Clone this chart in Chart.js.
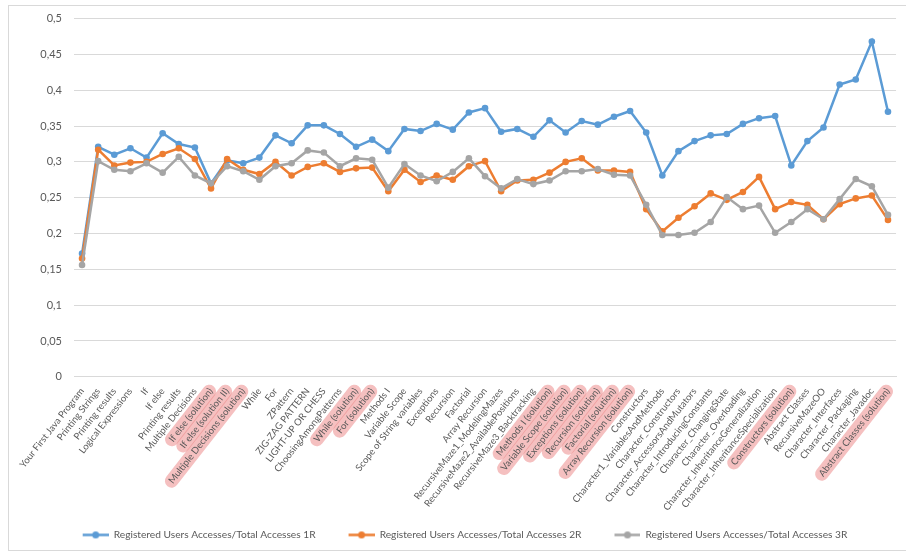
<!DOCTYPE html>
<html>
<head>
<meta charset="utf-8">
<script src="https://cdn.jsdelivr.net/npm/chart.js@4.4.1/dist/chart.umd.min.js"></script>
<style>
  html, body { margin: 0; padding: 0; background: #fff; }
  #wrap { position: relative; width: 906px; height: 552px; overflow: hidden; }
  #frame { position: absolute; left: 8px; top: 5px; width: 905px; height: 546px; border: 1px solid #d9d9d9; box-sizing: border-box; }
  #chart { position: absolute; left: 0; top: 0; }
</style>
</head>
<body>
<div id="wrap">
  <div id="frame"></div>
  <canvas id="chart" width="906" height="552"></canvas>
</div>
<script>
// ── Data ──
const lessons = [
  'Your First Java Program', 'Printing Strings', 'Printing results', 'Logical Expressions', 'If', 'If else',
  'Printing results', 'Multiple Decisions', 'If else (solution)', 'If else (solution II)', 'Multiple Decisions (solution)',
  'While', 'For', 'ZPattern', 'ZIG-ZAG PATTERN', 'LIGHT-UP OR CHESS', 'ChoosingAmongPatterns', 'While (solution)',
  'For (solution)', 'Methods I', 'Variable Scope', 'Scope of String variables', 'Exceptions', 'Recursion', 'Factorial',
  'Array Recursion', 'RecursiveMaze1_ModelingMazes', 'RecursiveMaze2_AvailablePositions', 'RecursiveMaze3_Backtracking',
  'Methods I (solution)', 'Variable Scope (solution)', 'Exceptions (solution)', 'Recursion (solution)',
  'Factorial (solution)', 'Array Recursion (solution)', 'Constructors', 'Character1_VariablesAndMethods',
  'Character_Constructors', 'Character_AccessorsAndMutators', 'Character_IntroducingConstants',
  'Character_ChangingState', 'Character_Overloading', 'Character_InheritanceGeneralization',
  'Character_InheritanceSpecialization', 'Constructors (solution)', 'Abstract Classes', 'RecursiveMazeOO',
  'Character_Interfaces', 'Character_Packaging', 'Character_Javadoc', 'Abstract Classes (solution)'
];
// solution lessons are highlighted in the original
const highlighted = [8, 9, 10, 17, 18, 29, 30, 31, 32, 33, 34, 44, 50];

const ratio1R = [
  0.172, 0.321, 0.310, 0.319, 0.306, 0.340, 0.325, 0.320, 0.270, 0.302, 0.298,
  0.306, 0.337, 0.326, 0.351, 0.351, 0.339, 0.321, 0.331, 0.315, 0.346, 0.343,
  0.353, 0.345, 0.369, 0.375, 0.342, 0.346, 0.335, 0.358, 0.341, 0.357, 0.352,
  0.363, 0.371, 0.341, 0.281, 0.315, 0.329, 0.337, 0.339, 0.353, 0.361, 0.364,
  0.295, 0.329, 0.348, 0.408, 0.415, 0.468, 0.370
];
const ratio2R = [
  0.165, 0.317, 0.295, 0.299, 0.300, 0.311, 0.319, 0.304, 0.263, 0.304, 0.289,
  0.283, 0.300, 0.281, 0.293, 0.298, 0.286, 0.291, 0.292, 0.259, 0.289, 0.272,
  0.281, 0.275, 0.294, 0.301, 0.259, 0.274, 0.275, 0.285, 0.300, 0.305, 0.288,
  0.288, 0.286, 0.234, 0.203, 0.222, 0.238, 0.256, 0.247, 0.258, 0.279, 0.234,
  0.244, 0.240, 0.220, 0.241, 0.249, 0.253, 0.219
];
const ratio3R = [
  0.156, 0.301, 0.289, 0.287, 0.298, 0.285, 0.307, 0.281, 0.270, 0.294, 0.287,
  0.275, 0.294, 0.298, 0.316, 0.313, 0.294, 0.305, 0.303, 0.264, 0.297, 0.281,
  0.273, 0.286, 0.305, 0.280, 0.263, 0.276, 0.269, 0.274, 0.287, 0.287, 0.290,
  0.282, 0.281, 0.240, 0.198, 0.198, 0.201, 0.216, 0.251, 0.234, 0.239, 0.201,
  0.216, 0.234, 0.220, 0.248, 0.276, 0.266, 0.226
];
const yTickLabels = ['0', '0,05', '0,1', '0,15', '0,2', '0,25', '0,3', '0,35', '0,4', '0,45', '0,5'];

const BLUE = '#5b9bd5', ORANGE = '#ed7d31', GRAY = '#a5a5a5';
const TXT = '#595959';
const FONT = 'Lato, "Open Sans", sans-serif';
const GAP = 25; // blank space left of each legend marker

// legend marker: short line with a dot, padded on the left
function legendMarker(color) {
  const c = document.createElement('canvas');
  c.width = GAP + 26; c.height = 9;
  const g = c.getContext('2d');
  g.strokeStyle = color; g.lineWidth = 2.5;
  g.beginPath(); g.moveTo(GAP, 4.5); g.lineTo(GAP + 26, 4.5); g.stroke();
  g.fillStyle = color;
  g.beginPath(); g.arc(GAP + 13, 4.5, 3.5, 0, Math.PI * 2); g.fill();
  return c;
}

// pink pills behind the "(solution)" labels
const pills = {
  id: 'pills',
  beforeDraw(chart) {
    const items = chart.scales.x.getLabelItems();
    const ctx = chart.ctx;
    highlighted.forEach(i => {
      const it = items[i];
      if (!it) return;
      const o = it.options;
      ctx.save();
      ctx.font = it.font.string;
      const w = ctx.measureText(it.label).width;
      const h = it.font.size + 4;
      ctx.translate(o.translation[0], o.translation[1]);
      ctx.rotate(o.rotation);
      ctx.fillStyle = 'rgba(236, 130, 130, 0.5)';
      ctx.beginPath();
      ctx.roundRect(-w - 5, it.textOffset - h / 2, w + 9, h, h / 2);
      ctx.fill();
      ctx.restore();
    });
  }
};

const series = (label, data, color, order) => ({
  label, data, order,
  borderColor: color, backgroundColor: color,
  borderWidth: 2.5, pointRadius: 3.3, pointHoverRadius: 3.3,
  pointBackgroundColor: color, pointBorderWidth: 0, tension: 0
});

new Chart(document.getElementById('chart'), {
  type: 'line',
  data: {
    labels: lessons,
    datasets: [
      series('Registered Users Accesses/Total Accesses 1R', ratio1R, BLUE, 3),
      series('Registered Users Accesses/Total Accesses 2R', ratio2R, ORANGE, 2),
      series('Registered Users Accesses/Total Accesses 3R', ratio3R, GRAY, 1)
    ]
  },
  options: {
    responsive: false,
    animation: false,
    layout: { padding: { top: 12, right: 1, bottom: 2, left: 0 } },
    scales: {
      x: {
        offset: true,
        grid: { display: false, drawTicks: false },
        border: { color: '#d9d9d9' },
        ticks: {
          autoSkip: false, minRotation: 52, maxRotation: 52, padding: 9,
          color: TXT, font: { family: FONT, size: 9.5 }
        },
        afterFit: s => { s.height = 145; }
      },
      y: {
        min: 0, max: 0.5,
        grid: { color: '#d9d9d9', drawTicks: false },
        border: { display: false },
        ticks: {
          stepSize: 0.05, padding: 12, color: TXT, font: { family: FONT, size: 11 },
          callback: (v, i) => yTickLabels[i]
        },
        afterFit: s => { s.width = 74; }
      }
    },
    plugins: {
      tooltip: { enabled: false },
      legend: {
        position: 'bottom',
        labels: {
          usePointStyle: true, pointStyleWidth: GAP + 26, padding: 8,
          color: TXT, font: { family: FONT, size: 10.2 },
          generateLabels: chart => chart.data.datasets.map((ds, i) => ({
            text: ds.label, datasetIndex: i, fontColor: TXT,
            pointStyle: legendMarker(ds.borderColor),
            fillStyle: ds.borderColor, strokeStyle: ds.borderColor, lineWidth: 0, hidden: false
          }))
        }
      }
    }
  },
  plugins: [pills]
});
</script>
</body>
</html>
